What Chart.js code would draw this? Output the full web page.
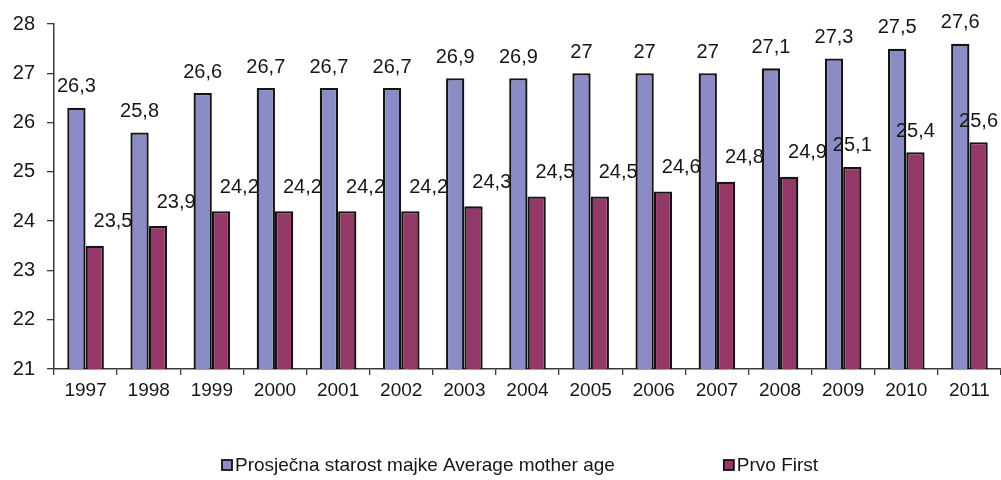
<!DOCTYPE html>
<html>
<head>
<meta charset="utf-8">
<script src="https://cdn.jsdelivr.net/npm/chart.js@4.4.1/dist/chart.umd.min.js"></script>
<style>
  html, body { margin: 0; padding: 0; background: #ffffff; }
  #wrap { width: 1001px; height: 480px; position: relative; }
</style>
</head>
<body>
<div id="wrap"><canvas id="c" width="1001" height="480"></canvas></div>
<script>
const years = ['1997','1998','1999','2000','2001','2002','2003','2004','2005','2006','2007','2008','2009','2010','2011'];
const averageAge = [26.3, 25.8, 26.6, 26.7, 26.7, 26.7, 26.9, 26.9, 27, 27, 27, 27.1, 27.3, 27.5, 27.6];
const firstBirth = [23.5, 23.9, 24.2, 24.2, 24.2, 24.2, 24.3, 24.5, 24.5, 24.6, 24.8, 24.9, 25.1, 25.4, 25.6];
const seriesNames = ['Prosječna starost majke Average mother age', 'Prvo First'];
const yTicks = [21, 22, 23, 24, 25, 26, 27, 28];

const FONT = '"Liberation Sans", Arial, sans-serif';
const TEXT = '#161616';
const AXIS = '#3a3a3a';

const fmt = v => String(v).replace('.', ',');

const labelPlugin = {
  id: 'barLabels',
  afterDatasetsDraw(chart) {
    const ctx = chart.ctx;
    ctx.save();
    ctx.font = '20px ' + FONT;
    ctx.fillStyle = TEXT;
    ctx.textAlign = 'center';
    ctx.textBaseline = 'middle';
    chart.data.datasets.forEach((ds, di) => {
      const meta = chart.getDatasetMeta(di);
      meta.data.forEach((bar, i) => {
        let x = bar.x;
        let y = bar.y - 21;
        if (di === 1 && i < 12) {
          x = bar.x + bar.width;
          y = bar.y - 24;
        }
        ctx.fillText(fmt(ds.data[i]), x, y);
      });
    });
    ctx.restore();
  }
};

const legendPlugin = {
  id: 'customLegend',
  afterDraw(chart) {
    const ctx = chart.ctx;
    ctx.save();
    ctx.font = '19px ' + FONT;
    ctx.textBaseline = 'middle';
    ctx.textAlign = 'left';
    const box = 10, gapText = 3, gapItems = 109;
    let x = 222;
    const y = 465;
    chart.data.datasets.forEach(ds => {
      const w = box + gapText + ctx.measureText(ds.label).width;
      ctx.fillStyle = ds.backgroundColor;
      ctx.fillRect(x, y - box / 2, box, box);
      ctx.lineWidth = 1.8;
      ctx.strokeStyle = '#111111';
      ctx.strokeRect(x, y - box / 2, box, box);
      ctx.fillStyle = TEXT;
      ctx.fillText(ds.label, x + box + gapText, y + 1);
      x += w + gapItems;
    });
    ctx.restore();
  }
};

new Chart(document.getElementById('c'), {
  type: 'bar',
  data: {
    labels: years,
    datasets: [
      {
        label: seriesNames[0],
        data: averageAge,
        backgroundColor: '#8b8bc6',
        borderColor: '#141414',
        borderWidth: 2.3,
        borderSkipped: false
      },
      {
        label: seriesNames[1],
        data: firstBirth,
        backgroundColor: '#943868',
        borderColor: '#141414',
        borderWidth: 2.3,
        borderSkipped: false
      }
    ]
  },
  options: {
    responsive: false,
    animation: false,
    devicePixelRatio: 1,
    layout: { padding: { top: 24, right: 0, left: 0, bottom: 0 } },
    datasets: { bar: { categoryPercentage: 0.58, barPercentage: 1.0 } },
    plugins: {
      legend: { display: false },
      tooltip: { enabled: false }
    },
    scales: {
      x: {
        offset: true,
        grid: {
          display: true, drawOnChartArea: false, offset: true, tickLength: 6, lineWidth: 1.3,
          color: c => (c.index >= years.length ? 'rgba(0,0,0,0)' : AXIS)
        },
        border: { display: true, color: AXIS, width: 1.5 },
        ticks: { color: TEXT, font: { family: FONT, size: 19 }, padding: 4, maxRotation: 0, autoSkip: false },
        afterFit: s => { s.height = 111; }
      },
      y: {
        min: 21,
        max: 28,
        afterBuildTicks: s => { s.ticks = yTicks.map(v => ({ value: v })); },
        grid: { display: true, drawOnChartArea: false, tickLength: 7, color: AXIS, lineWidth: 1.3 },
        border: { display: true, color: AXIS, width: 1.5 },
        ticks: { color: TEXT, font: { family: FONT, size: 20 }, padding: 12 },
        afterFit: s => { s.width = 54; }
      }
    }
  },
  plugins: [labelPlugin, legendPlugin]
});
</script>
</body>
</html>
